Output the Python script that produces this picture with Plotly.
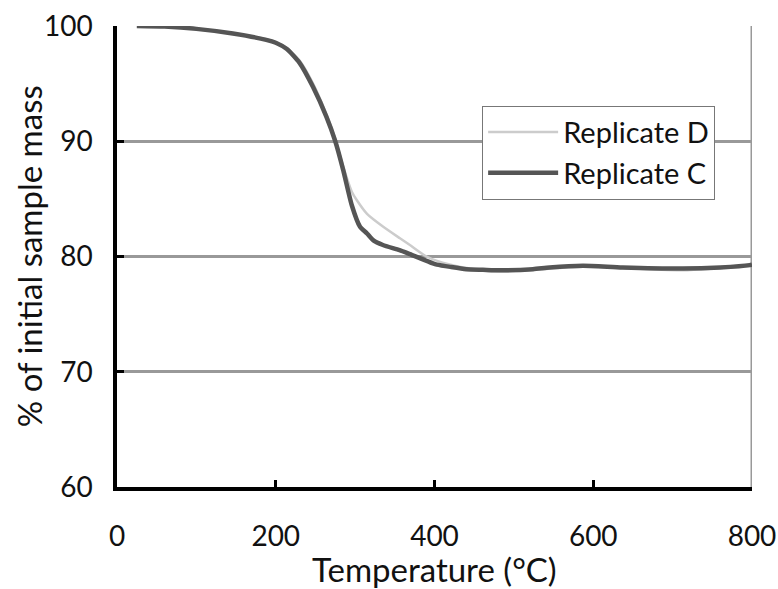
import plotly.graph_objects as go

# Replicate C (dark, thick)
temp_c = [25, 60, 100, 146, 188, 200, 214, 230, 247, 264, 275, 285, 296, 306, 315, 323, 335, 356,
          369, 398, 403, 420, 440, 461, 482, 524, 545, 587, 637, 713, 760, 797, 800]
mass_c = [100, 99.95, 99.75, 99.35, 98.8, 98.55, 98.0, 96.8, 94.7, 92.1, 90.0, 87.5, 84.4, 82.6,
          82.0, 81.4, 81.0, 80.55, 80.2, 79.4, 79.3, 79.1, 78.9, 78.85, 78.8, 78.9, 79.05, 79.2,
          79.05, 78.95, 79.05, 79.25, 79.3]

# Replicate D (light, thin)
temp_d = [25, 60, 100, 146, 188, 200, 214, 230, 247, 264, 275, 285, 296, 302, 315, 335, 356, 369,
          390, 419, 450, 482, 524, 587, 637, 713, 760, 800]
mass_d = [100, 99.95, 99.75, 99.35, 98.85, 98.6, 98.1, 97.0, 95.0, 92.3, 90.2, 87.8, 85.6, 84.9,
          83.7, 82.6, 81.6, 81.0, 80.0, 79.3, 78.9, 78.7, 78.85, 79.1, 79.0, 78.8, 79.0, 79.2]

x_ticks = [0, 200, 400, 600, 800]
y_ticks = [60, 70, 80, 90, 100]

x_title = "Temperature (°C)"
y_title = "% of initial sample mass"

FONT = "Lato"

fig = go.Figure()
fig.add_trace(go.Scatter(x=temp_d, y=mass_d, mode="lines", name="Replicate D",
                         line=dict(color="#cccccc", width=2.5, shape="spline", smoothing=0.6)))
fig.add_trace(go.Scatter(x=temp_c, y=mass_c, mode="lines", name="Replicate C",
                         line=dict(color="#555555", width=4.5, shape="spline", smoothing=0.6)))

# right border line at x=800
fig.add_shape(type="line", xref="x", yref="paper", x0=800, x1=800, y0=0, y1=1,
              line=dict(color="#999999", width=3), layer="below")

fig.add_annotation(text=x_title, xref="paper", yref="paper", x=0.5, y=-0.178,
                   xanchor="center", yanchor="middle", showarrow=False,
                   font=dict(size=33, family=FONT, color="#111111"))
fig.add_annotation(text=y_title, xref="paper", yref="paper", x=-0.139, y=0.500,
                   xanchor="center", yanchor="middle", showarrow=False, textangle=-90,
                   font=dict(size=33, family=FONT, color="#111111"))

fig.update_layout(
    width=778, height=589,
    margin=dict(l=117, r=26, t=26, b=102, autoexpand=False),
    paper_bgcolor="white", plot_bgcolor="white",
    font=dict(family=FONT, color="#111111", size=28),
    showlegend=True,
    legend=dict(x=0.575, y=0.827, xanchor="left", yanchor="top",
                bordercolor="#777777", borderwidth=1, bgcolor="white",
                font=dict(size=29, family=FONT), tracegroupgap=0, itemwidth=70),
    xaxis=dict(range=[0, 800], tickvals=x_ticks, ticks="inside", ticklen=7, tickwidth=3,
               tickcolor="black", showline=True, linecolor="black", linewidth=3.5,
               showgrid=False, zeroline=False, tickfont=dict(size=28),
               automargin=False, ticklabelstandoff=22),
    yaxis=dict(range=[60, 100], tickvals=y_ticks, ticks="inside", ticklen=7, tickwidth=3,
               tickcolor="black", showline=True, linecolor="black", linewidth=3.5,
               showgrid=True, gridcolor="#999999", gridwidth=2.5, zeroline=False,
               tickfont=dict(size=28), automargin=False, ticklabelstandoff=15),
)

fig.write_html("out.html")
